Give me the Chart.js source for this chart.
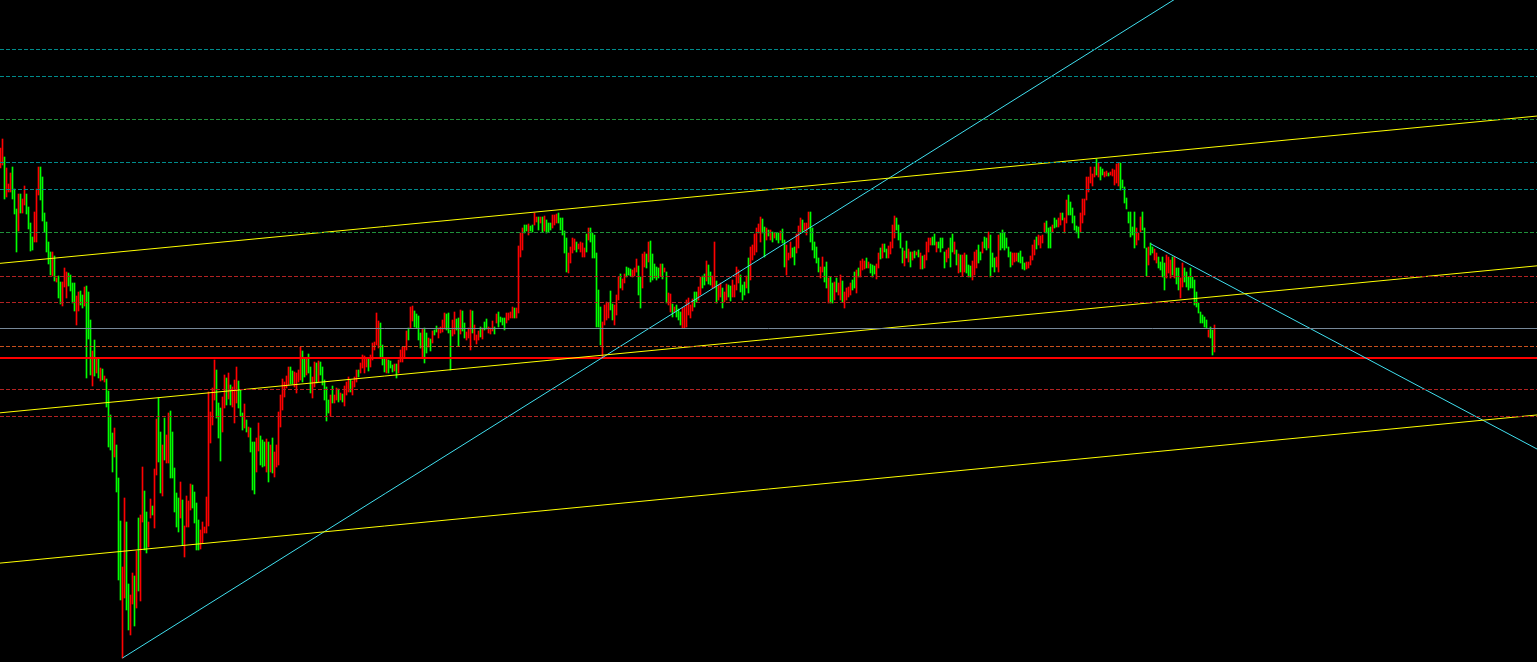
<!DOCTYPE html>
<html>
<head>
<meta charset="utf-8">
<title>Chart</title>
<script src="https://cdn.jsdelivr.net/npm/chart.js@4"></script>
<style>
  html, body { margin: 0; padding: 0; background: #000; overflow: hidden; }
  canvas { display: block; background: #000; }
</style>
</head>
<body>
<canvas id="chart" width="1537" height="662"></canvas>
<script>
// ===== DATA (price in points, one bar per period) =====
const highs = [
  852,861,843,832,816,827,833,811,791,806, 806,801,814,806,793,777,763,788,811,833,
  833,823,787,778,758,748,748,744,722,724, 718,718,732,728,727,725,717,717,704,708,
  709,705,713,714,708,680,649,660,641,641, 632,631,624,621,609,585,567,572,555,522,
  479,433,502,478,416,405,427,424,449,482, 485,533,509,488,478,501,494,531,581,602,
  568,555,582,565,587,589,568,532,507,502, 518,500,474,504,499,516,515,508,497,480,
  470,478,473,503,608,588,612,640,630,597, 592,603,625,622,627,615,613,620,633,619,
  610,587,596,580,573,572,558,558,562,577, 564,560,558,561,558,555,562,548,555,588,
  605,621,618,624,633,633,629,628,627,630, 653,649,642,642,646,633,623,638,637,639,
  638,633,620,613,600,605,614,605,612,611, 607,606,614,618,623,620,619,623,630,630,
  637,645,644,642,642,645,657,658,687,679, 677,655,641,641,640,639,635,636,636,640,
  650,653,653,669,672,693,694,689,686,684, 667,671,672,667,662,661,669,670,674,672,
  673,680,687,686,687,670,680,688,681,682, 690,689,677,668,672,690,689,675,665,669,
  673,672,678,681,673,672,679,673,686,688, 683,682,682,687,687,688,693,692,692,754,
  767,772,775,775,776,774,775,787,783,783, 783,783,784,780,777,777,785,785,786,787,
  782,782,769,762,747,753,762,761,758,756, 758,757,752,766,772,772,767,765,747,710,
  693,678,695,698,697,709,696,695,705,723, 726,721,726,733,732,731,730,732,741,734,
  723,746,748,746,758,759,746,736,733,732, 736,736,732,728,707,706,696,693,695,691,
  688,692,693,700,702,695,701,708,708,713, 723,724,726,739,735,728,724,758,719,715,
  717,712,708,716,715,714,720,715,733,730, 725,715,718,724,742,753,755,766,772,776,
  783,781,773,772,770,770,768,767,767,767, 769,771,760,755,747,758,752,753,766,774,
  782,780,777,777,788,788,772,758,753,742, 733,743,733,738,722,723,717,718,722,717,
  725,719,708,712,713,717,720,728,730,732, 739,741,739,742,738,736,735,734,736,747,
  752,756,756,751,754,758,775,784,782,775, 767,752,749,759,751,748,748,749,748,750,
  747,744,745,758,762,762,763,766,758,758, 762,762,748,750,752,762,766,758,750,746,
  745,745,747,745,735,734,739,748,750,755, 748,758,763,762,768,765,747,742,743,765,
  767,770,767,762,753,748,747,747,747,747, 749,743,737,738,738,744,755,760,763,765,
  764,765,777,779,772,773,775,782,780,782, 787,787,782,800,805,798,792,784,774,773,
  787,801,801,823,823,833,826,833,841,837, 833,831,828,829,827,828,831,830,836,837,
  837,820,813,802,788,788,773,788,772,767, 783,788,772,752,753,757,753,751,747,743,
  738,743,737,745,743,740,743,743,732,732, 722,737,732,728,723,732,723,720,708,697,
  688,685,683,680,670,673,670,675
];

const lows = [
  832,835,801,803,808,808,801,786,748,769, 787,787,795,786,771,749,750,758,758,805,
  800,779,768,748,736,725,724,719,718,702, 696,694,713,702,714,709,697,689,675,689,
  695,692,694,622,661,625,614,624,627,622, 619,620,618,593,553,550,528,543,508,420,
  400,342,402,390,370,365,396,374,392,409, 399,478,450,447,453,482,485,472,525,538,
  507,504,540,537,537,522,522,488,473,468, 482,455,443,473,473,490,492,477,450,450,
  451,457,467,467,474,557,575,600,582,562, 539,568,592,595,601,595,593,577,597,592,
  584,570,572,568,563,548,510,506,528,549, 535,533,534,528,518,528,527,523,533,535,
  573,590,603,612,615,616,616,613,607,618, 620,618,623,625,627,607,602,613,617,618,
  625,615,600,579,587,584,597,597,600,598, 600,598,594,605,608,608,605,613,618,623,
  627,632,627,633,629,633,640,650,655,652, 643,635,628,627,627,632,628,629,622,627,
  638,638,643,650,660,672,679,673,672,660, 652,642,637,647,653,649,657,665,668,662,
  667,668,671,670,667,630,664,666,670,654, 666,669,662,660,662,650,667,660,656,660,
  663,661,670,671,667,666,669,666,677,673, 678,675,670,677,680,682,682,682,682,687,
  743,750,767,769,765,769,768,775,778,770, 777,768,769,767,768,770,772,775,777,777,
  770,765,747,728,727,737,747,750,748,751, 748,743,743,748,760,758,742,742,673,673,
  655,643,675,680,682,690,680,675,685,700, 712,710,717,723,725,724,723,724,728,705,
  692,712,733,732,738,718,720,722,720,722, 724,721,728,697,695,688,683,688,683,680,
  675,672,672,673,685,682,689,693,698,700, 705,712,715,719,716,715,712,712,697,700,
  703,692,698,700,703,699,703,703,710,717, 708,700,705,712,707,720,740,745,748,767,
  758,767,743,760,764,760,758,762,760,757, 760,757,733,725,740,742,743,735,747,752,
  768,768,770,765,772,758,750,742,737,728, 722,728,718,712,697,697,697,700,708,705,
  700,698,692,700,703,705,710,712,707,723, 723,730,731,732,732,727,723,726,721,732,
  741,742,748,742,742,746,752,762,770,760, 752,737,734,742,738,733,740,742,745,743,
  731,731,732,740,748,755,755,755,748,752, 748,752,732,738,742,733,748,746,735,727,
  728,724,728,727,723,723,720,725,732,737, 740,747,752,750,752,723,733,728,733,728,
  750,752,750,752,743,733,735,738,739,738, 737,731,730,731,732,735,740,745,751,755,
  752,757,768,767,752,752,768,772,773,773, 775,780,767,777,785,785,777,770,767,762,
  768,777,785,800,808,817,814,823,825,823, 820,825,823,824,824,825,824,815,817,814,
  810,812,797,791,777,763,765,752,755,760, 768,770,752,724,735,745,747,740,737,732,
  730,723,710,722,727,722,725,722,716,710, 702,713,718,713,710,712,712,695,693,687,
  677,677,673,672,663,662,645,648
];

// G = bar closed up, R = bar closed down
const directions = [
  "RRGRRRGGGR","GRRGGGGRRR","GGGGGGRGRG","GRRRGGGGRR","GGRGGGRGRG","RGRGGGGRGG",
  "GRRGGRRGRG","RRGGRRGRRG","GRGRRGGGGG","RGRRRRGGGG","RRRRRRRRGG","GRRGRGRRRG",
  "GGRGRGGGRR","GGGRGRGRRR","RRRRRGGRRR","RGGRGGRRGR","GGGGGRGRRG","RGRRRGRRRG",
  "RRRRGRRRRR","GGGRGGGRGR","RRRRGRRGGG","GRGGRGRGGR","RRRGGGRRGG","RGGRRRGRRR",
  "GRGGRRRGRG","GGGRRRRGRR","RRGGRGGRRG","RGRGGGRRRG","GGGGRRRRGR","RRRGRGGGGG",
  "GRRRRGGRRR","GRRGGGRRRG","GRRGRGGGGG","RGRGRRGRGG","GRRRRRRGGR","RGGRGGRRGR",
  "RGRRGGRRRR","GGGRGRRRRR","RGGRGRGRGG","RGGRRRGGRR","RGRRRGGGGG","RRGGRGGRGR",
  "RGRRRRGGRG","RRRGRGGGRR","GRGGRRRRGG","GGRGRGRGRG","RGRRRRGGRG","GGGRRGGRGR",
  "GRRGGGRRRG","GRGGRGGGRR","GGGGGGRRRG","GGGRRRRRGR","RRRGGGRGGR","RGRRGGGGGG",
  "RRRRRRRRGR","GGRRGRRRRR","GGGGGGGGRR","RGGGRGGRRG","GGGRRRGRGG","RRGGGGGGGG",
  "GGGGRGGR"
].join("").split("");

// ===== HORIZONTAL LEVELS =====
const tealLevels   = [950.5, 923.5, 837.5, 810.5];
const greenLevels  = [880.5, 767.5];
const redLevels    = [723.5, 697.5, 610.5, 583.5];
const greyLevel    = 671.5;
const orangeLevel  = 653.5;
const supportLevel = 642;

// ===== TREND LINES (two anchors each: bar index, price) =====
const channelTop    = [[60, 748.2], [600, 851.7]];
const channelMiddle = [[60, 598.7], [600, 702.0]];
const channelBottom = [[60, 448.5], [600, 552.6]];
const riseLine      = [[61, 342], [301, 642.5]];
const fallLine      = [[575, 756.3], [700, 623.5]];

// ===== SCALE RANGE =====
const X_MIN = -0.25, X_MAX = 768.25;
const Y_MIN = 338,   Y_MAX = 1000;

// ===== BUILD DATASETS =====
const GREEN  = "#00ff00";
const RED    = "#ff0000";
const YELLOW = "#ffff00";
const CYAN   = "#40e0f0";

const barData   = highs.map((h, i) => ({ x: i, y: [lows[i], h] }));
const barColors = directions.map(d => d === "G" ? GREEN : RED);

function level(price, color, dash, width) {
  return {
    type: "line",
    data: [{ x: X_MIN, y: price }, { x: X_MAX, y: price }],
    borderColor: color,
    borderWidth: width || 1,
    borderDash: dash,
    pointRadius: 0,
    order: 1
  };
}

function trend(anchors, color, bothWays) {
  const [a, b] = anchors;
  const slope  = (b[1] - a[1]) / (b[0] - a[0]);
  const x0 = bothWays ? X_MIN : a[0];
  return {
    type: "line",
    data: [
      { x: x0,    y: a[1] + slope * (x0 - a[0]) },
      { x: X_MAX, y: a[1] + slope * (X_MAX - a[0]) }
    ],
    borderColor: color,
    borderWidth: 1,
    pointRadius: 0,
    order: 1
  };
}

const DASH = [4, 2];
const datasets = [
  {
    type: "bar",
    data: barData,
    backgroundColor: barColors,
    borderWidth: 0,
    barThickness: 1,
    grouped: false,
    order: 5
  },
  ...tealLevels.map(p => level(p, "#008b8b", DASH)),
  ...greenLevels.map(p => level(p, "#1f8f3a", DASH)),
  ...redLevels.map(p => level(p, "#b22222", DASH)),
  level(greyLevel, "#778899", []),
  level(orangeLevel, "#c8501e", DASH),
  trend(channelTop, YELLOW, true),
  trend(channelMiddle, YELLOW, true),
  trend(channelBottom, YELLOW, true),
  trend(riseLine, CYAN, false),
  trend(fallLine, CYAN, false),
  level(supportLevel, RED, [], 2)
];

// ===== CHART =====
new Chart(document.getElementById("chart").getContext("2d"), {
  type: "bar",
  data: { datasets },
  options: {
    responsive: false,
    devicePixelRatio: 1,
    animation: false,
    events: [],
    layout: { padding: 0 },
    plugins: { legend: { display: false }, tooltip: { enabled: false } },
    scales: {
      x: { type: "linear", min: X_MIN, max: X_MAX, display: false, offset: false },
      y: { type: "linear", min: Y_MIN, max: Y_MAX, display: false }
    }
  }
});
</script>
</body>
</html>
